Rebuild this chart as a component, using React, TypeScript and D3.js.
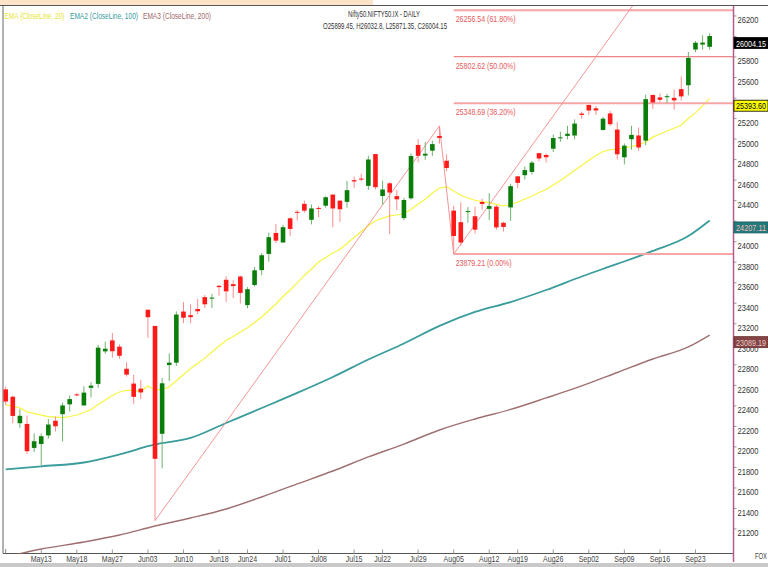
import React from "react";
import * as d3 from "d3";

const dates = [
  "May06","May07","May08","May09","May10","May13","May14","May15","May16","May17",
  "May18","May21","May22","May23","May24","May27","May28","May29","May30","May31",
  "Jun03","Jun04","Jun05","Jun06","Jun07","Jun10","Jun11","Jun12","Jun13","Jun14",
  "Jun18","Jun19","Jun20","Jun21","Jun24","Jun25","Jun26","Jun27","Jun28",
  "Jul01","Jul02","Jul03","Jul04","Jul05","Jul08","Jul09","Jul10","Jul11","Jul12",
  "Jul15","Jul16","Jul18","Jul19","Jul22","Jul23","Jul24","Jul25","Jul26","Jul29","Jul30","Jul31",
  "Aug01","Aug02","Aug05","Aug06","Aug07","Aug08","Aug09","Aug12","Aug13","Aug14","Aug16",
  "Aug19","Aug20","Aug21","Aug22","Aug23","Aug26","Aug27","Aug28","Aug29","Aug30",
  "Sep02","Sep03","Sep04","Sep05","Sep06","Sep09","Sep10","Sep11","Sep12","Sep13",
  "Sep16","Sep17","Sep18","Sep19","Sep20","Sep23","Sep24","Sep25",
];

const opens = [
  22561,22489,22231,22224,21990,22028,22112,22255,22319,22415,
  22512,22404,22576,22614,22931,23038,22977,22762,22617,22568,
  23337,23179,22128,22798,22821,23319,23284,23344,23460,23445,
  23570,23629,23586,23661,23382,23578,23723,23881,24085,
  23992,24228,24291,24369,24213,24329,24351,24459,24400,24388,
  24600,24615,24544,24854,24445,24569,24444,24230,24423,24943,24839,24887,
  25030,24789,24303,24190,24290,24248,24387,24320,24342,24184,24334,
  24637,24648,24680,24863,24845,24906,25010,25031,25035,25249,
  25333,25300,25089,25250,25093,24823,24999,25035,24985,25430,
  25406,25417,25402,25487,25525,25873,25921,25899.45,
];
const highs = [
  22588,22499,22368,22307,22131,22131,22270,22297,22432,22502,
  22526,22591,22629,22993,23026,23110,22998,22825,22705,22653,
  23338,23179,22670,22910,23320,23411,23389,23441,23481,23490,
  23579,23664,23624,23667,23558,23754,23889,24087,24174,
  24164,24236,24309,24401,24363,24345,24443,24461,24402,24592,
  24635,24661,24837,24854,24595,24582,24504,24426,24861,24999,24971,24985,
  25128,24851,24350,24383,24337,24340,24419,24472,24359,24196,24564,
  24638,24734,24787,24867,24858,25044,25073,25130,25192,25268,
  25333,25321,25216,25275,25168,24957,25130,25113,25433,25433,
  25445,25441,25483,25611,25849,25956,26012,26032.8,
];
const lows = [
  22409,22232,22185,21932,21950,21821,22081,22151,22054,22345,
  22493,22404,22483,22577,22908,22871,22858,22685,22417,22465,
  23063,21281,21791,22642,22789,23206,23206,23295,23354,23353,
  23473,23412,23451,23398,23350,23563,23673,23805,23985,
  23992,24056,24207,24281,24168,24240,24331,24141,24193,24331,
  24522,24587,24504,24508,24362,24074,24308,24210,24411,24774,24798,24836,
  24956,24686,23879,23960,24185,24079,24311,24212,24116,24099,24204,
  24522,24607,24654,24784,24771,24874,24973,24998,24998,25199,
  25235,25236,25083,25127,24801,24753,24896,24886,24941,25292,
  25361,25352,25286,25376,25426,25847,25872,25871.35,
];
const closes = [
  22442,22302,22303,21958,22055,22104,22218,22201,22404,22466,
  22502,22529,22597,22967,22957,22932,22888,22704,22488,22531,
  23264,21884,22620,22821,23290,23259,23264,23322,23390,23455,
  23557,23516,23567,23501,23537,23721,23868,24044,24010,
  24141,24124,24286,24302,24324,24321,24433,24324,24316,24502,
  24587,24614,24801,24531,24509,24479,24413,24406,24835,24837,24857,24951,
  25011,24718,24056,23992,24298,24117,24368,24347,24139,24144,24541,
  24573,24698,24770,24811,24823,25010,25017,25052,25151,25236,
  25279,25279,25199,25145,24852,24936,25041,24918,25389,25357,
  25383,25418,25377,25416,25791,25939,25940,26004.15,
];

const ema20 = [
  22407,22399,22379,22342,22326,22309,22296,22290,22285,22296,
  22311,22335,22365,22413,22457,22501,22535,22552,22550,22540,
  22594,22555,22560,22585,22645,22706,22764,22813,22865,22925,
  22984,23037,23076,23120,23161,23213,23266,23330,23393,23466,
  23529,23598,23671,23734,23802,23846,23890,23926,23983,24041,
  24100,24155,24204,24228,24251,24260,24273,24314,24368,24413,
  24475,24522,24535,24494,24452,24426,24404,24392,24381,24363,
  24348,24363,24384,24416,24446,24479,24509,24553,24597,24645,
  24694,24743,24794,24840,24879,24896,24902,24913,24928,24943,
  24972,25019,25050,25079,25105,25138,25201,25255,25323,25393.6,
];

const emaSampleDates = [
  "May06","May13","May21","May28","Jun04","Jun11","Jun19","Jun26","Jul03","Jul10",
  "Jul18","Jul25","Aug01","Aug08","Aug16","Aug23","Aug30","Sep06","Sep13","Sep20","Sep25",
];
const ema100 = [
  21780,21811,21848,21926,22024,22087,22233,22379,22526,22681,
  22852,23008,23179,23315,23412,23529,23661,23783,23910,24056,24207.11,
];
const ema200 = [
  20927,21005,21073,21141,21229,21307,21395,21512,21639,21765,
  21902,22028,22165,22272,22365,22477,22594,22725,22857,22974,23089.19,
];

const xTickLabels = [
  "May13","May18","May27","Jun03","Jun10","Jun18","Jun24","Jul01","Jul08","Jul15",
  "Jul22","Jul29","Aug05","Aug12","Aug19","Aug26","Sep02","Sep09","Sep16","Sep23",
];
const yTicks = [
  21200,21400,21600,21800,22000,22200,22400,22600,22800,23000,23200,23400,
  23600,23800,24000,24200,24400,24600,24800,25000,25200,25400,25600,25800,26000,26200,
];

const fibValues = [23879.21, 25348.69, 25802.62, 26256.54];
const fibLabels = ["23879.21 (0.00%)", "25348.69 (38.20%)", "25802.62 (50.00%)", "26256.54 (61.80%)"];
const fibAnchorDates = ["Jun04", "Aug01", "Aug05"];
const fibAnchorValues = [21281, 25128, 23879.21];

const legendItems = ["EMA (CloseLine, 20)", "EMA2 (CloseLine, 100)", "EMA3 (CloseLine, 200)"];
const titleText = "Nifty50.NIFTY50.IX - DAILY";
const ohlcText = "O25899.45, H26032.8, L25871.35, C26004.15";

const FONT = "'Liberation Sans', Arial, sans-serif";

function CText(props: {
  x: number; y: number; w?: number; sx?: number; size?: number; fill?: string;
  anchor?: "start" | "middle" | "end"; children: string;
}) {
  const { x, y, w, sx = 0.78, size = 9.5, fill = "#333", anchor = "start", children } = props;
  if (w) {
    let x0 = x;
    if (anchor === "middle") x0 = x - w / 2;
    if (anchor === "end") x0 = x - w;
    return (
      <text x={x0} y={y} fontSize={size} fill={fill} textLength={w} lengthAdjust="spacingAndGlyphs">
        {children}
      </text>
    );
  }
  return (
    <text transform={`translate(${x},${y}) scale(${sx},1)`} fontSize={size} fill={fill} textAnchor={anchor}>
      {children}
    </text>
  );
}

export default function App() {
  const W = 768, H = 567;
  const L = 3, R = 733.5, T = 6, B = 553.5;
  const x = d3.scalePoint<string>().domain(dates).range([5.68, 709.7]);
  const y = d3.scaleLinear().domain([20966, 26297]).range([553, 6]);
  const bw = 4.6;

  const line20 = d3.line<number>().x((_, i) => x(dates[i]) as number).y((d) => y(d));
  const lineS = d3
    .line<number>()
    .x((_, i) => x(emaSampleDates[i]) as number)
    .y((d) => y(d))
    .curve(d3.curveMonotoneX);

  const xA = x(fibAnchorDates[0]) as number;
  const xB = x(fibAnchorDates[1]) as number;
  const xC = x(fibAnchorDates[2]) as number;
  const yA = y(fibAnchorValues[0]);
  const yB = y(fibAnchorValues[1]);
  const yC = y(fibAnchorValues[2]);
  const xD = xC + (xB - xA);
  const yD = y(fibAnchorValues[2] + (fibAnchorValues[1] - fibAnchorValues[0]));

  const boxes = [
    { v: closes[closes.length - 1], text: "26004.15", bg: "#000000", fg: "#ffffff", stroke: "#000000" },
    { v: ema20[ema20.length - 1], text: "25393.60", bg: "#ffff00", fg: "#000000", stroke: "#000000" },
    { v: ema100[ema100.length - 1], text: "24207.11", bg: "#237a7a", fg: "#f2b8b8", stroke: "#1a5f5f" },
    { v: ema200[ema200.length - 1], text: "23089.19", bg: "#844444", fg: "#e8c8c8", stroke: "#6a3030" },
  ];
  const legendX = [4.5, 70, 143];
  const legendW = [60, 68, 68];
  const legendC = ["#e6e62e", "#3a9c9c", "#a06868"];

  return (
    <svg width={W} height={H} style={{ position: "absolute", left: 0, top: 0, background: "#fff" }} fontFamily={FONT}>
      <defs>
        <clipPath id="plot">
          <rect x={L} y={T} width={R - L} height={B - T} />
        </clipPath>
      </defs>
      <rect x={0} y={0} width={W} height={H} fill="#ffffff" />
      <rect x={0} y={0} width={373} height={5} fill="#fde4c9" />
      <line x1={0} x2={W} y1={5.5} y2={5.5} stroke="#555" strokeWidth={1} />
      <line x1={L} x2={L} y1={T} y2={B} stroke="#666" strokeWidth={1} />
      <line x1={L} x2={R} y1={B} y2={B} stroke="#555" strokeWidth={1} />
      <rect x={0} y={563} width={W} height={4} fill="#c9c9c9" />

      <g clipPath="url(#plot)">
        <path d={lineS(ema200) || ""} fill="none" stroke="#a07070" strokeWidth={1.4} />
        <path d={lineS(ema100) || ""} fill="none" stroke="#3a9c9c" strokeWidth={1.8} />
        <path d={line20(ema20) || ""} fill="none" stroke="#f6f640" strokeWidth={1.2} />

        {fibValues.map((v, i) => (
          <line key={"f" + i} x1={xC} x2={R} y1={y(v)} y2={y(v)}
            stroke={i === 2 ? "#e86464" : "#f6a6a6"} strokeWidth={i === 2 ? 1 : 2} />
        ))}
        <line x1={xA} y1={yA} x2={xB} y2={yB} stroke="#f28a8a" strokeWidth={0.9} />
        <line x1={xB} y1={yB} x2={xC} y2={yC} stroke="#f28a8a" strokeWidth={0.9} />
        <line x1={xC} y1={yC} x2={xD} y2={yD} stroke="#f28a8a" strokeWidth={0.9} />

        {dates.map((d, i) => {
          const cx = x(d) as number;
          const up = closes[i] > opens[i];
          const top = y(Math.max(opens[i], closes[i]));
          const bot = y(Math.min(opens[i], closes[i]));
          const h = Math.max(1, bot - top);
          return (
            <g key={d}>
              <line x1={cx} x2={cx} y1={y(highs[i])} y2={y(lows[i])}
                stroke={up ? "#6cb46c" : "#ff8c8c"} strokeWidth={1} />
              <rect x={cx - bw / 2} y={top} width={bw} height={h}
                fill={up ? "#0a7d0a" : "#ff1a1a"} />
            </g>
          );
        })}

        {fibValues.map((v, i) => (
          <CText key={"fl" + i} x={xC + 2} y={y(v) + 12} w={i === 0 ? 56 : 60} size={9.5} fill="#e85a5a">
            {fibLabels[i]}
          </CText>
        ))}
      </g>

      {/* X axis */}
      <line x1={x("May06") as number} x2={x("May06") as number} y1={549} y2={B} stroke="#888" />
      {xTickLabels.map((t) => (
        <g key={t}>
          <line x1={x(t) as number} x2={x(t) as number} y1={549.5} y2={B} stroke="#999" />
          <CText x={x(t) as number} y={562} sx={0.74} size={9.5} fill="#444" anchor="middle">{t}</CText>
        </g>
      ))}

      {/* Y axis */}
      {yTicks.map((t) => (
        <g key={t}>
          <line x1={R} x2={R + 3} y1={y(t)} y2={y(t)} stroke="#999" />
          <CText x={737.5} y={y(t) + 7.5} w={21} size={9.5} fill="#333">{String(t)}</CText>
        </g>
      ))}
      <line x1={R} x2={R} y1={T} y2={562} stroke="#b05c8c" strokeWidth={1.5} />

      {boxes.map((b) => (
        <g key={b.text}>
          <rect x={R + 0.5} y={y(b.v) + 1.5} width={34} height={11} fill={b.bg} stroke={b.stroke} strokeWidth={0.8} />
          <CText x={R + 2.5} y={y(b.v) + 10.5} w={30} size={9.5} fill={b.fg}>{b.text}</CText>
        </g>
      ))}

      <CText x={755} y={559} w={12} size={9} fill="#444">FOX</CText>

      {legendItems.map((t, i) => (
        <CText key={t} x={legendX[i]} y={19} w={legendW[i]} size={9.5} fill={legendC[i]}>{t}</CText>
      ))}
      <CText x={384} y={16.5} w={72} size={9} fill="#333" anchor="middle">{titleText}</CText>
      <CText x={385} y={28.5} w={124} size={9} fill="#333" anchor="middle">{ohlcText}</CText>
    </svg>
  );
}
